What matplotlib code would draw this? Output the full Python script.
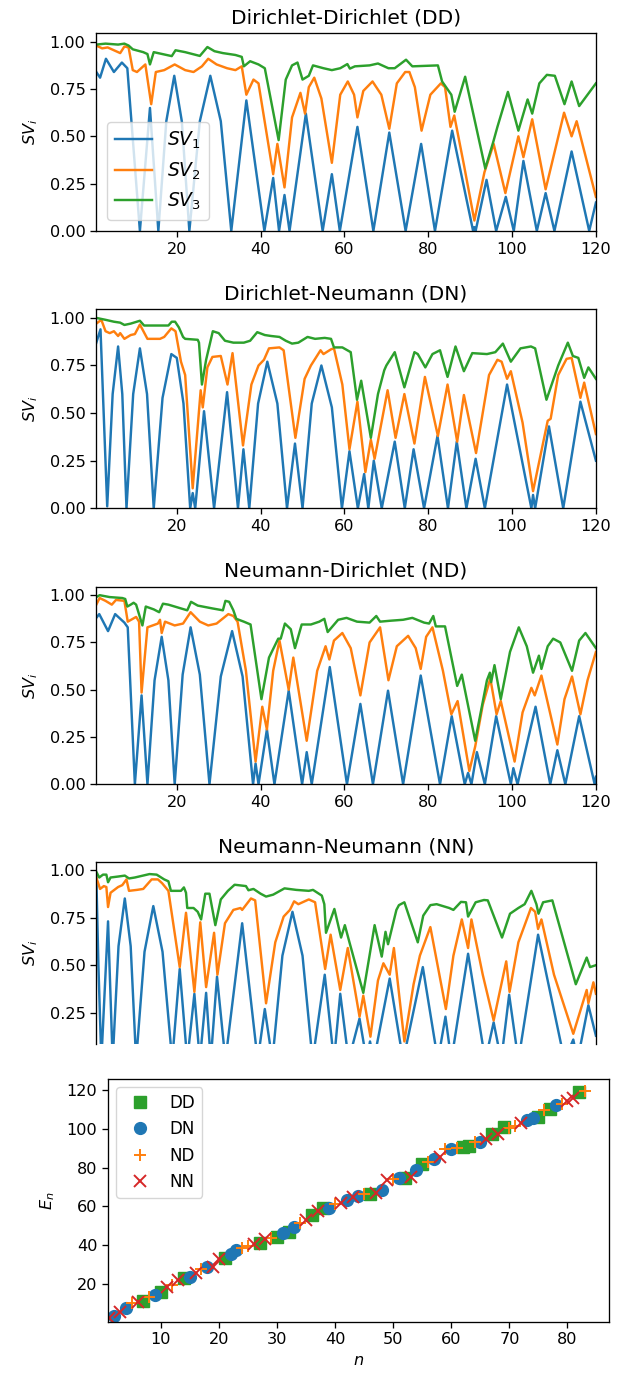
import matplotlib

matplotlib.use("Agg")
import matplotlib.pyplot as plt

# (E, SV) samples
DD_SV1 = [
    (0.8, 0.84), (1.7, 0.81), (3.1, 0.91), (5.0, 0.84), (6.9, 0.89), (8.2, 0.86),
    (11.2, 0.0), (13.6, 0.65), (15.6, 0.0), (17.5, 0.58), (19.4, 0.82), (21.2, 0.58),
    (23.0, 0.0), (25.5, 0.58), (28.0, 0.82), (30.5, 0.58), (33.0, 0.0), (36.6, 0.69),
    (40.9, 0.0), (43.0, 0.28), (44.4, 0.0), (45.7, 0.19), (46.9, 0.0), (50.8, 0.62),
    (54.8, 0.0), (57.0, 0.30), (58.9, 0.0), (63.1, 0.55), (66.9, 0.0), (70.7, 0.52),
    (74.6, 0.0), (78.3, 0.46), (81.6, 0.0), (85.7, 0.53), (90.7, 0.0), (91.0, 0.02),
    (91.3, 0.0), (93.9, 0.27), (96.2, 0.0), (98.5, 0.18), (100.4, 0.0), (102.7, 0.37),
    (105.9, 0.0), (108.0, 0.20), (110.1, 0.0), (114.2, 0.42), (118.4, 0.0), (120.0, 0.15),
]
DD_SV2 = [
    (0.8, 0.98), (2.2, 0.965), (3.5, 0.97), (5.0, 0.955), (6.5, 0.94), (7.5, 0.975),
    (8.5, 0.97), (9.5, 0.85), (10.5, 0.84), (12.5, 0.88), (13.9, 0.67), (15.0, 0.84),
    (17.0, 0.85), (19.5, 0.88), (22.0, 0.85), (24.0, 0.84), (26.0, 0.87), (27.5, 0.91),
    (29.5, 0.88), (32.0, 0.86), (34.0, 0.85), (35.5, 0.87), (36.6, 0.72), (38.3, 0.80),
    (39.5, 0.78), (43.0, 0.30), (44.0, 0.46), (45.7, 0.23), (47.5, 0.60), (49.5, 0.73),
    (50.6, 0.62), (51.5, 0.76), (52.8, 0.81), (54.5, 0.70), (57.0, 0.36), (59.0, 0.72),
    (60.8, 0.79), (62.3, 0.72), (63.1, 0.60), (64.5, 0.74), (66.7, 0.79), (68.8, 0.72),
    (70.7, 0.54), (72.5, 0.78), (74.5, 0.84), (75.5, 0.84), (76.8, 0.76), (78.4, 0.53),
    (80.5, 0.72), (83.0, 0.78), (84.0, 0.76), (85.3, 0.55), (86.2, 0.61), (88.5, 0.35),
    (91.0, 0.055), (93.4, 0.31), (95.6, 0.46), (98.4, 0.20), (101.5, 0.50), (102.7, 0.39),
    (104.8, 0.59), (108.0, 0.22), (112.4, 0.625), (114.2, 0.50), (115.4, 0.58), (120.0, 0.18),
]
DD_SV3 = [
    (0.8, 0.985), (3.0, 0.99), (6.0, 0.985), (7.5, 0.99), (8.5, 0.98), (9.5, 0.96),
    (12.0, 0.945), (13.0, 0.935), (13.6, 0.88), (14.5, 0.945), (18.8, 0.924), (19.7, 0.955),
    (22.0, 0.945), (25.5, 0.925), (27.3, 0.972), (29.0, 0.95), (31.0, 0.94), (34.0, 0.93),
    (35.5, 0.92), (36.0, 0.87), (37.5, 0.897), (39.5, 0.88), (41.0, 0.86), (44.3, 0.48),
    (46.0, 0.80), (47.5, 0.875), (48.8, 0.89), (50.0, 0.80), (51.5, 0.82), (52.5, 0.875),
    (55.0, 0.86), (57.0, 0.85), (59.0, 0.86), (60.7, 0.882), (61.3, 0.858), (62.5, 0.87),
    (66.0, 0.875), (68.0, 0.885), (70.5, 0.86), (72.0, 0.86), (74.7, 0.905), (76.2, 0.87),
    (82.3, 0.875), (83.3, 0.79), (85.5, 0.72), (86.3, 0.63), (88.8, 0.815), (93.6, 0.33),
    (95.5, 0.47), (96.5, 0.55), (99.0, 0.735), (101.5, 0.53), (103.7, 0.695), (104.8, 0.62),
    (106.5, 0.78), (108.3, 0.825), (110.2, 0.82), (112.5, 0.67), (114.2, 0.79), (116.0, 0.66),
    (118.0, 0.72), (120.0, 0.78),
]

DN_SV1 = [
    (0.8, 0.87), (1.8, 0.94), (3.4, 0.01), (4.7, 0.6), (6.0, 0.85), (7.0, 0.6),
    (8.0, 0.0), (9.6, 0.6), (11.2, 0.84), (12.9, 0.6), (14.5, 0.0), (16.6, 0.58),
    (18.7, 0.81), (20.0, 0.79), (21.6, 0.55), (23.2, 0.0), (23.8, 0.08), (24.4, 0.0),
    (26.5, 0.51), (28.9, 0.0), (32.0, 0.61), (34.6, 0.0), (35.9, 0.31), (37.3, 0.0),
    (39.4, 0.55), (41.6, 0.77), (44.0, 0.55), (46.3, 0.0), (48.2, 0.34), (50.0, 0.0),
    (52.2, 0.55), (54.5, 0.75), (57.0, 0.53), (59.4, 0.0), (61.2, 0.30), (63.2, 0.0),
    (64.7, 0.18), (65.7, 0.0), (67.0, 0.25), (68.9, 0.0), (72.0, 0.35), (74.4, 0.0),
    (76.5, 0.31), (79.0, 0.0), (82.2, 0.38), (84.7, 0.0), (86.8, 0.35), (89.1, 0.0),
    (91.3, 0.26), (93.5, 0.0), (98.8, 0.65), (104.6, 0.0), (105.0, 0.07), (105.5, 0.0),
    (108.8, 0.43), (112.2, 0.0), (116.3, 0.56), (120.0, 0.25),
]
DN_SV2 = [
    (0.8, 0.97), (2.0, 0.99), (3.0, 0.93), (4.0, 0.92), (5.0, 0.93), (6.0, 0.905),
    (6.5, 0.92), (7.5, 0.89), (9.0, 0.91), (10.0, 0.915), (11.2, 0.965), (13.0, 0.89),
    (16.0, 0.89), (17.0, 0.90), (18.7, 0.945), (19.7, 0.93), (21.0, 0.77), (22.0, 0.70),
    (23.8, 0.105), (25.7, 0.62), (26.2, 0.53), (27.3, 0.74), (28.5, 0.795), (30.5, 0.80),
    (32.1, 0.65), (33.3, 0.815), (35.8, 0.33), (37.8, 0.65), (39.5, 0.75), (40.8, 0.78),
    (42.0, 0.84), (44.5, 0.845), (45.5, 0.83), (48.3, 0.37), (50.5, 0.68), (52.0, 0.75),
    (54.3, 0.83), (55.0, 0.81), (56.8, 0.835), (57.5, 0.84), (59.5, 0.65), (61.2, 0.31),
    (63.1, 0.56), (65.0, 0.19), (66.3, 0.36), (67.2, 0.26), (70.3, 0.62), (72.2, 0.37),
    (74.3, 0.60), (76.7, 0.34), (79.2, 0.69), (82.3, 0.38), (84.6, 0.65), (86.9, 0.35),
    (88.5, 0.595), (91.4, 0.29), (94.5, 0.70), (96.5, 0.78), (97.5, 0.77), (98.8, 0.68),
    (99.7, 0.72), (102.5, 0.45), (105.0, 0.09), (108.5, 0.46), (109.2, 0.47), (111.0, 0.70),
    (113.0, 0.785), (114.2, 0.79), (116.3, 0.58), (117.2, 0.66), (120.0, 0.39),
]
DN_SV3 = [
    (0.8, 1.0), (3.0, 0.99), (5.0, 0.98), (6.5, 0.975), (7.5, 0.963), (9.0, 0.97),
    (11.2, 0.985), (12.2, 0.96), (18.0, 0.96), (18.8, 0.98), (19.6, 0.98), (20.5, 0.95),
    (21.5, 0.90), (22.0, 0.89), (25.0, 0.885), (25.3, 0.87), (26.0, 0.65), (27.0, 0.78),
    (28.6, 0.93), (30.0, 0.92), (31.5, 0.88), (33.5, 0.87), (36.0, 0.87), (37.5, 0.88),
    (39.2, 0.925), (41.0, 0.91), (42.5, 0.905), (44.5, 0.90), (46.0, 0.88), (47.5, 0.865),
    (49.0, 0.87), (51.2, 0.90), (53.0, 0.89), (55.3, 0.895), (56.8, 0.89), (57.5, 0.845),
    (59.5, 0.845), (61.5, 0.82), (63.0, 0.57), (64.0, 0.67), (66.3, 0.37), (68.0, 0.60),
    (69.5, 0.725), (70.0, 0.75), (72.0, 0.82), (74.3, 0.635), (76.7, 0.82), (77.5, 0.81),
    (79.3, 0.74), (81.0, 0.81), (82.8, 0.83), (84.6, 0.69), (86.5, 0.85), (88.5, 0.72),
    (90.5, 0.815), (94.0, 0.81), (96.0, 0.82), (97.8, 0.865), (99.7, 0.77), (102.0, 0.84),
    (104.5, 0.85), (105.5, 0.84), (108.2, 0.57), (111.0, 0.75), (113.3, 0.87), (114.5, 0.80),
    (115.8, 0.79), (117.2, 0.685), (118.2, 0.74), (120.0, 0.68),
]

ND_SV1 = [
    (0.8, 0.88), (1.5, 0.90), (3.6, 0.81), (5.3, 0.90), (7.5, 0.855), (8.3, 0.83),
    (10.0, 0.0), (11.6, 0.47), (13.0, 0.0), (14.7, 0.55), (16.4, 0.78), (18.0, 0.55),
    (19.5, 0.0), (21.4, 0.58), (23.3, 0.83), (25.5, 0.58), (27.8, 0.0), (30.5, 0.57),
    (33.2, 0.81), (35.7, 0.57), (38.2, 0.0), (38.8, 0.11), (39.5, 0.0), (41.5, 0.29),
    (43.3, 0.0), (46.7, 0.495), (49.9, 0.0), (51.0, 0.17), (52.2, 0.0), (56.5, 0.62),
    (60.6, 0.0), (63.8, 0.425), (66.8, 0.0), (70.4, 0.495), (74.0, 0.0), (78.2, 0.575),
    (82.8, 0.0), (85.6, 0.36), (88.7, 0.0), (89.5, 0.06), (90.3, 0.0), (91.6, 0.17),
    (93.5, 0.0), (96.2, 0.36), (99.7, 0.0), (100.3, 0.085), (101.3, 0.0), (105.6, 0.41),
    (109.1, 0.0), (110.8, 0.18), (112.7, 0.0), (116.0, 0.36), (119.7, 0.0), (120.0, 0.04),
]
ND_SV2 = [
    (0.8, 0.95), (1.6, 0.985), (3.0, 0.97), (4.5, 0.95), (5.5, 0.975), (7.5, 0.97),
    (8.3, 0.86), (10.3, 0.885), (11.0, 0.86), (11.6, 0.485), (13.0, 0.83), (15.5, 0.85),
    (16.0, 0.87), (16.4, 0.80), (17.2, 0.86), (19.5, 0.84), (21.5, 0.85), (23.3, 0.91),
    (25.5, 0.86), (27.5, 0.84), (29.5, 0.85), (32.3, 0.90), (33.5, 0.89), (34.5, 0.86),
    (36.5, 0.60), (38.8, 0.12), (40.4, 0.41), (41.5, 0.29), (43.0, 0.60), (44.5, 0.76),
    (46.7, 0.50), (47.8, 0.67), (51.0, 0.23), (53.5, 0.60), (55.5, 0.73), (56.4, 0.66),
    (57.5, 0.76), (59.5, 0.80), (61.5, 0.72), (63.8, 0.47), (66.0, 0.75), (68.5, 0.83),
    (70.5, 0.55), (72.5, 0.73), (75.2, 0.785), (77.0, 0.72), (78.2, 0.61), (79.5, 0.78),
    (81.0, 0.83), (83.5, 0.60), (85.5, 0.37), (87.0, 0.44), (89.8, 0.07), (91.2, 0.20),
    (93.0, 0.42), (94.8, 0.56), (96.3, 0.37), (97.3, 0.44), (100.6, 0.12), (102.5, 0.38),
    (104.6, 0.51), (105.4, 0.47), (107.0, 0.575), (110.8, 0.21), (112.5, 0.45), (114.3, 0.57),
    (116.3, 0.37), (118.0, 0.55), (120.0, 0.70),
]
ND_SV3 = [
    (0.8, 0.99), (1.6, 1.0), (4.0, 0.99), (7.0, 0.985), (7.7, 0.98), (8.2, 0.94),
    (9.0, 0.95), (9.7, 0.96), (10.3, 0.95), (11.8, 0.84), (12.6, 0.94), (14.5, 0.925),
    (15.8, 0.91), (16.7, 0.955), (18.0, 0.95), (21.0, 0.93), (22.5, 0.92), (23.4, 0.965),
    (25.0, 0.945), (28.5, 0.93), (31.0, 0.92), (31.6, 0.97), (32.5, 0.965), (33.5, 0.92),
    (34.2, 0.875), (36.0, 0.86), (37.6, 0.845), (40.2, 0.45), (42.0, 0.67), (44.2, 0.77),
    (44.8, 0.77), (45.8, 0.85), (47.2, 0.82), (48.2, 0.72), (49.8, 0.845), (52.0, 0.845),
    (54.0, 0.86), (55.2, 0.875), (56.0, 0.805), (58.5, 0.87), (60.5, 0.88), (63.0, 0.86),
    (66.0, 0.855), (67.6, 0.89), (68.5, 0.86), (71.0, 0.865), (74.0, 0.87), (76.2, 0.88),
    (79.0, 0.855), (80.2, 0.85), (81.2, 0.89), (81.8, 0.835), (84.0, 0.835), (86.9, 0.52),
    (88.0, 0.58), (91.2, 0.23), (94.0, 0.55), (94.7, 0.59), (95.0, 0.54), (95.8, 0.63),
    (97.3, 0.45), (99.5, 0.70), (101.6, 0.83), (103.5, 0.73), (105.0, 0.59), (106.4, 0.68),
    (107.0, 0.61), (108.5, 0.73), (109.8, 0.77), (111.5, 0.75), (114.3, 0.60), (116.0, 0.76),
    (117.5, 0.80), (120.0, 0.72),
]

NN_SV1 = [
    (0.8, 0.97), (1.3, 0.5), (2.0, 0.0), (3.6, 0.73), (4.7, 0.0), (6.1, 0.6),
    (7.6, 0.85), (9.0, 0.6), (10.3, 0.0), (12.3, 0.57), (14.4, 0.81), (16.6, 0.57),
    (18.9, 0.0), (20.7, 0.48), (22.5, 0.0), (24.2, 0.35), (25.5, 0.0), (27.0, 0.355),
    (28.1, 0.0), (29.6, 0.44), (31.6, 0.0), (35.6, 0.72), (39.3, 0.0), (41.0, 0.27),
    (42.8, 0.0), (45.2, 0.55), (47.6, 0.78), (50.0, 0.55), (52.4, 0.0), (55.3, 0.45),
    (57.5, 0.0), (59.0, 0.35), (61.0, 0.0), (63.6, 0.22), (65.3, 0.0), (66.1, 0.10),
    (67.0, 0.0), (70.8, 0.43), (74.0, 0.0), (78.7, 0.49), (82.3, 0.0), (84.1, 0.23),
    (85.5, 0.0), (89.5, 0.56), (93.6, 0.0), (95.6, 0.20), (97.4, 0.0), (99.3, 0.345),
    (101.5, 0.0), (106.2, 0.66), (112.5, 0.0), (114.6, 0.11), (115.6, 0.0), (118.2, 0.29),
    (120.0, 0.13),
]
NN_SV2 = [
    (0.8, 0.96), (1.7, 0.90), (2.6, 0.915), (3.2, 0.91), (3.6, 0.805), (4.2, 0.88),
    (6.0, 0.91), (7.0, 0.92), (8.0, 0.95), (8.6, 0.89), (10.5, 0.895), (12.0, 0.90),
    (14.0, 0.95), (15.5, 0.95), (16.5, 0.93), (18.0, 0.89), (20.7, 0.49), (22.2, 0.775),
    (24.2, 0.36), (25.6, 0.725), (27.0, 0.385), (28.9, 0.67), (29.7, 0.45), (31.5, 0.72),
    (33.5, 0.79), (35.2, 0.80), (35.6, 0.79), (37.7, 0.85), (38.7, 0.84), (41.3, 0.30),
    (43.5, 0.62), (45.5, 0.755), (47.0, 0.79), (48.0, 0.835), (49.0, 0.82), (51.5, 0.845),
    (53.0, 0.83), (55.4, 0.48), (56.7, 0.66), (59.0, 0.37), (60.8, 0.59), (63.6, 0.23),
    (64.5, 0.34), (66.2, 0.125), (68.0, 0.42), (69.3, 0.51), (70.8, 0.45), (71.8, 0.59),
    (74.3, 0.10), (76.5, 0.40), (78.0, 0.55), (80.5, 0.70), (84.2, 0.27), (86.0, 0.55),
    (88.0, 0.74), (89.5, 0.59), (90.3, 0.74), (93.0, 0.45), (95.6, 0.21), (98.6, 0.52),
    (99.4, 0.36), (101.5, 0.62), (104.5, 0.80), (105.5, 0.78), (106.2, 0.69), (107.0, 0.74),
    (110.0, 0.45), (114.6, 0.14), (117.8, 0.37), (118.2, 0.30), (119.4, 0.41), (120.0, 0.35),
]
NN_SV3 = [
    (0.8, 0.99), (1.5, 0.96), (2.4, 0.975), (3.2, 0.975), (3.6, 0.935), (4.2, 0.96),
    (6.0, 0.965), (7.6, 0.97), (8.6, 0.955), (10.0, 0.96), (13.5, 0.978), (15.2, 0.975),
    (17.0, 0.95), (18.0, 0.94), (18.6, 0.89), (21.0, 0.89), (21.7, 0.908), (22.2, 0.88),
    (22.5, 0.80), (24.0, 0.80), (25.0, 0.78), (25.8, 0.74), (26.8, 0.875), (27.8, 0.875),
    (29.2, 0.71), (30.5, 0.845), (32.2, 0.89), (33.8, 0.922), (36.5, 0.915), (37.1, 0.893),
    (38.3, 0.90), (40.0, 0.875), (41.3, 0.86), (43.0, 0.87), (45.7, 0.903), (48.5, 0.895),
    (51.5, 0.89), (52.5, 0.895), (54.6, 0.865), (55.2, 0.82), (55.6, 0.67), (57.6, 0.795),
    (59.2, 0.645), (60.1, 0.71), (61.2, 0.62), (64.5, 0.355), (67.2, 0.71), (68.9, 0.545),
    (69.8, 0.675), (70.4, 0.61), (72.4, 0.79), (73.0, 0.815), (74.3, 0.83), (77.5, 0.62),
    (78.8, 0.76), (80.5, 0.815), (82.0, 0.82), (85.0, 0.80), (86.0, 0.79), (87.8, 0.832),
    (89.0, 0.83), (89.5, 0.755), (91.3, 0.83), (93.3, 0.842), (94.2, 0.84), (97.6, 0.645),
    (99.5, 0.77), (101.5, 0.80), (103.0, 0.82), (104.6, 0.89), (105.8, 0.82), (106.3, 0.77),
    (107.4, 0.83), (109.6, 0.84), (115.2, 0.40), (117.8, 0.54), (118.6, 0.49), (120.0, 0.50),
]

# eigenvalue index n vs energy E_n for each boundary condition
DD_N = [7, 10, 14, 21, 27, 30, 32, 36, 38, 46, 52, 55, 62, 63, 67, 69, 75, 77, 82]
DD_E = [11.3, 15.7, 23.3, 33.4, 41.1, 44.4, 46.8, 55.4, 59.3, 66.5, 74.8, 82.0,
        90.5, 91.2, 97.3, 100.8, 106.2, 110.0, 119.1]
DN_N = [2, 4, 9, 15, 18, 22, 23, 31, 33, 39, 42, 44, 48, 51, 54, 57, 60, 65, 73, 74, 78]
DN_E = [3.3, 7.5, 14.5, 23.8, 28.6, 35.3, 37.3, 46.4, 49.5, 59.2, 63.5, 65.3, 68.6,
        74.8, 79.0, 84.3, 89.4, 93.4, 104.6, 105.6, 112.3]
ND_N = [5, 8, 12, 17, 24, 25, 29, 34, 40, 45, 50, 56, 59, 61, 64, 70, 71, 76, 79, 83]
ND_E = [10.2, 13.4, 19.3, 27.5, 38.8, 39.5, 43.6, 51.6, 61.0, 66.5, 74.2, 83.0,
        89.4, 90.3, 93.4, 100.2, 101.6, 109.7, 113.0, 119.7]
NN_N = [1, 3, 6, 11, 13, 16, 19, 20, 26, 28, 35, 37, 41, 43, 47, 49, 53, 58, 66, 68,
        72, 80, 81]
NN_E = [2.5, 5.6, 10.8, 18.6, 22.2, 25.5, 28.8, 32.8, 40.8, 43.2, 52.8, 57.5, 62.0,
        64.6, 67.0, 73.7, 75.0, 85.6, 94.6, 97.3, 103.2, 114.5, 115.7]

PANELS = [
    ("Dirichlet-Dirichlet (DD)", DD_SV1, DD_SV2, DD_SV3),
    ("Dirichlet-Neumann (DN)", DN_SV1, DN_SV2, DN_SV3),
    ("Neumann-Dirichlet (ND)", ND_SV1, ND_SV2, ND_SV3),
    ("Neumann-Neumann (NN)", NN_SV1, NN_SV2, NN_SV3),
]

# axes boxes in figure fractions: left, bottom, width, height
SV_BOXES = [
    (0.154, 0.8318, 0.801, 0.1440),
    (0.154, 0.6298, 0.801, 0.1449),
    (0.154, 0.4288, 0.801, 0.1439),
    (0.154, 0.2394, 0.801, 0.1326),
]
EN_BOX = (0.173, 0.0374, 0.803, 0.1768)

TICK_SIZE = 11.6

plt.rcParams.update(
    {
        "axes.linewidth": 0.95,
        "xtick.major.size": 4.2,
        "ytick.major.size": 4.2,
        "xtick.major.width": 0.95,
        "ytick.major.width": 0.95,
        "axes.titlepad": 7.0,
    }
)


def draw_sv_panel(axis, title, curves, clipped=False):
    for index, curve in enumerate(curves, start=1):
        energies = [row[0] for row in curve]
        values = [row[1] for row in curve]
        axis.plot(energies, values, color=f"C{index - 1}", lw=1.75, label=f"$SV_{index}$")
    axis.set_title(title, fontsize=14.5)
    axis.set_ylabel("$SV_i$", fontsize=TICK_SIZE, labelpad=7)
    axis.set_xlim(0.75, 120)
    axis.set_yticks([0.0, 0.25, 0.5, 0.75, 1.0])
    axis.tick_params(labelsize=TICK_SIZE)
    if clipped:
        # bottom of this panel is hidden under the spectrum panel
        axis.set_ylim(0.085, 1.04)
        axis.spines["bottom"].set_visible(False)
        axis.tick_params(axis="x", bottom=False, labelbottom=False)
    else:
        axis.set_ylim(0.0, 1.045)
        axis.set_xticks([20, 40, 60, 80, 100, 120])


figure = plt.figure(figsize=(6.24, 13.73), dpi=100)

for position, (title, sv1, sv2, sv3) in enumerate(PANELS):
    axis = figure.add_axes(SV_BOXES[position])
    draw_sv_panel(axis, title, [sv1, sv2, sv3], clipped=(position == 3))
    if position == 0:
        axis.legend(loc="lower left", fontsize=13.5, borderaxespad=0.6)

axis = figure.add_axes(EN_BOX)
axis.plot(DD_N, DD_E, "s", color="C2", ms=8, label="DD")
axis.plot(DN_N, DN_E, "o", color="C0", ms=8.5, label="DN")
axis.plot(ND_N, ND_E, "+", color="C1", ms=9, mew=1.4, label="ND")
axis.plot(NN_N, NN_E, "x", color="C3", ms=8, mew=1.4, label="NN")
axis.set_xlim(0.9, 87.15)
axis.set_ylim(0.6, 125.7)
axis.set_xticks([10, 20, 30, 40, 50, 60, 70, 80])
axis.set_yticks([20, 40, 60, 80, 100, 120])
axis.tick_params(labelsize=TICK_SIZE)
axis.set_xlabel("$n$", fontsize=TICK_SIZE)
axis.set_ylabel("$E_n$", fontsize=TICK_SIZE, labelpad=7)
axis.legend(loc="upper left", fontsize=12)

figure.savefig("out.png", dpi=100)
plt.close(figure)
